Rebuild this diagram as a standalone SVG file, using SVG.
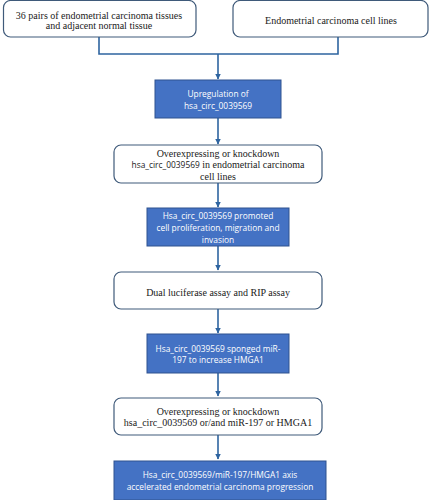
<svg xmlns="http://www.w3.org/2000/svg" width="429" height="500" viewBox="0 0 429 500">
<style>
.w{fill:#fff;stroke:#3f5a7a;stroke-width:1.2}
.b{fill:#4472c4;stroke:#2f528f;stroke-width:1}
.st{font-family:"Liberation Serif",serif;font-size:10px;fill:#1a1a1a;text-anchor:middle}
.bt{font-family:"Open Sans",sans-serif;font-size:8.4px;fill:#fff;text-anchor:middle}
.ss{font-family:"Open Sans",sans-serif;font-size:8.4px}
.c{fill:none;stroke:#2e64a0;stroke-width:1.6}
</style>
<defs>
<marker id="ah" viewBox="0 0 10 10" refX="9" refY="5" markerWidth="3.5" markerHeight="3.5" orient="auto">
<path d="M0,0L10,5L0,10z" fill="#2e64a0"/>
</marker>
</defs>
<rect width="429" height="500" fill="#fff"/>
<g id="connectors">
<path class="c" d="M99,37V54H338V37"/>
<path class="c" d="M218,54V79" marker-end="url(#ah)"/>
<path class="c" d="M218,118V144" marker-end="url(#ah)"/>
<path class="c" d="M218,183V207" marker-end="url(#ah)"/>
<path class="c" d="M218,246V270" marker-end="url(#ah)"/>
<path class="c" d="M218,309V333" marker-end="url(#ah)"/>
<path class="c" d="M218,373V396" marker-end="url(#ah)"/>
<path class="c" d="M218,435V459" marker-end="url(#ah)"/>
</g>
<g id="n1">
<rect class="w" x="3.5" y="0.5" width="192.5" height="36.5" rx="7"/>
<text class="st" x="99" y="18.5">36 pairs of endometrial carcinoma tissues</text>
<text class="st" x="99" y="29">and adjacent normal tissue</text>
</g>
<g id="n2">
<rect class="w" x="233" y="0.5" width="195" height="36.5" rx="7"/>
<text class="st" x="331" y="23.5">Endometrial carcinoma cell lines</text>
</g>
<g id="n3">
<rect class="b" x="155" y="80" width="126" height="38"/>
<text class="bt" x="218" y="97">Upregulation of</text>
<text class="bt" x="218" y="109">hsa_circ_0039569</text>
</g>
<g id="n4">
<rect class="w" x="114" y="145" width="208" height="38" rx="7"/>
<text class="st" x="218" y="156.5">Overexpressing or knockdown</text>
<text class="st" x="218" y="168"><tspan class="ss">hsa_circ_0039569</tspan> in endometrial carcinoma</text>
<text class="st" x="218" y="180">cell lines</text>
</g>
<g id="n5">
<rect class="b" x="147" y="208" width="142" height="38"/>
<text class="bt" x="218" y="219">Hsa_circ_0039569 promoted</text>
<text class="bt" x="218" y="231">cell proliferation, migration and</text>
<text class="bt" x="218" y="242.5">invasion</text>
</g>
<g id="n6">
<rect class="w" x="114" y="272" width="208" height="37" rx="7"/>
<text class="st" x="218" y="295.5">Dual luciferase assay and RIP assay</text>
</g>
<g id="n7">
<rect class="b" x="147" y="334" width="142" height="39"/>
<text class="bt" x="218" y="352">Hsa_circ_0039569 sponged miR-</text>
<text class="bt" x="218" y="363">197 to increase HMGA1</text>
</g>
<g id="n8">
<rect class="w" x="114" y="398" width="208" height="37" rx="7"/>
<text class="st" x="218" y="414.5">Overexpressing or knockdown</text>
<text class="st" x="218" y="426">hsa_circ_0039569 or/and miR-197 or HMGA1</text>
</g>
<g id="n9">
<rect class="b" x="114" y="461" width="212" height="39"/>
<text class="bt" x="220" y="478">Hsa_circ_0039569/miR-197/HMGA1 axis</text>
<text class="bt" x="220" y="490">accelerated endometrial carcinoma progression</text>
</g>
</svg>
